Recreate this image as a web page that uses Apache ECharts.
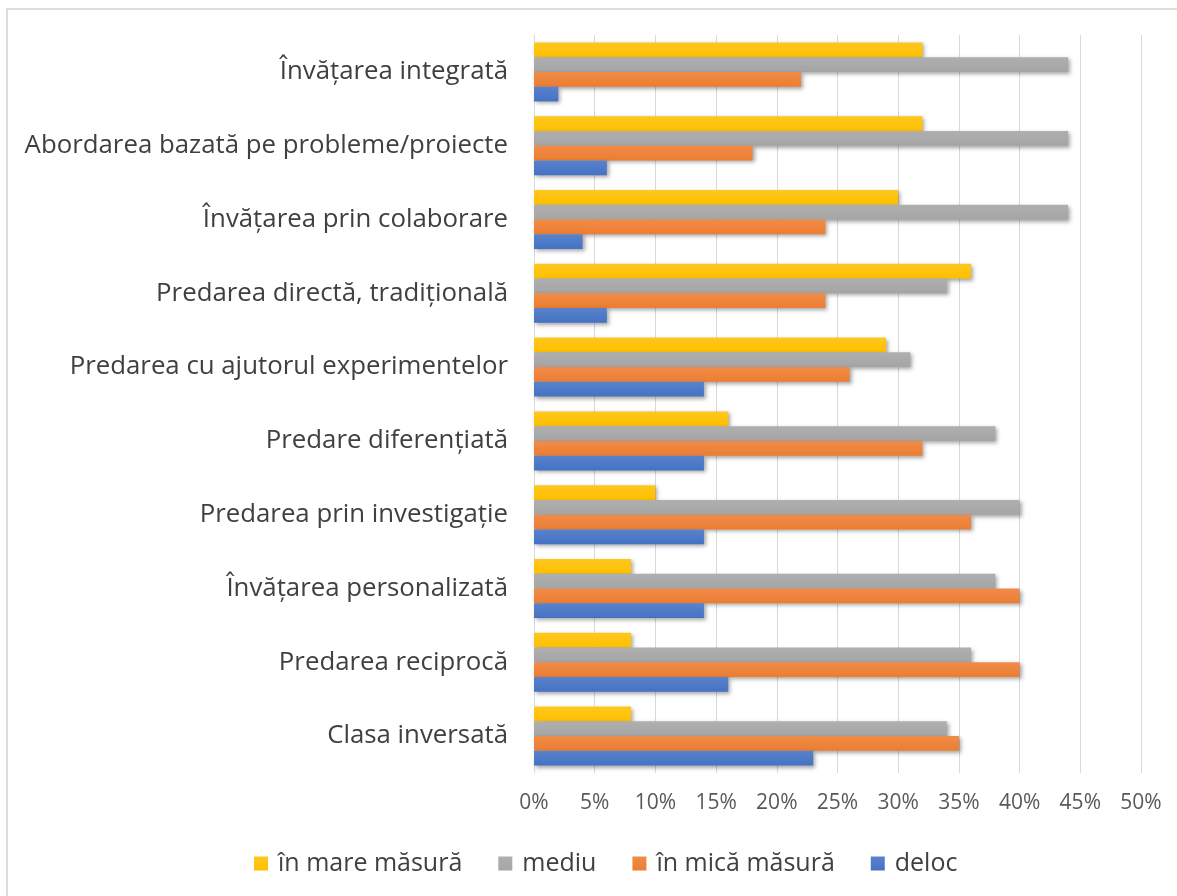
<!DOCTYPE html>
<html>
<head>
<meta charset="utf-8">
<script src="https://cdn.jsdelivr.net/npm/echarts@6/dist/echarts.min.js"></script>
<style>
  html, body { margin: 0; padding: 0; background: #fff; }
  #frame { position: absolute; left: 6px; top: 8px; width: 1171px; height: 888px; border-top: 2px solid #dcdcdc; border-left: 2px solid #dcdcdc; box-sizing: border-box; }
  #chart { position: absolute; left: 0; top: 0; width: 1177px; height: 896px; }
</style>
</head>
<body>
<div id="frame"></div>
<div id="chart"></div>
<script>
// Teaching approaches, listed top to bottom
const categories = [
  'Învățarea integrată',
  'Abordarea bazată pe probleme/proiecte',
  'Învățarea prin colaborare',
  'Predarea directă, tradițională',
  'Predarea cu ajutorul experimentelor',
  'Predare diferențiată',
  'Predarea prin investigație',
  'Învățarea personalizată',
  'Predarea reciprocă',
  'Clasa inversată'
];

// Share of answers (%) per approach
const inMareMasura = [32, 32, 30, 36, 29, 16, 10, 8, 8, 8];
const mediu        = [44, 44, 44, 34, 31, 38, 40, 38, 36, 34];
const inMicaMasura = [22, 18, 24, 24, 26, 32, 36, 40, 40, 35];
const deloc        = [2, 6, 4, 6, 14, 14, 14, 14, 16, 23];

const seriesNames = ['în mare măsură', 'mediu', 'în mică măsură', 'deloc'];
const seriesColors = ['#FFC000', '#A5A5A5', '#ED7D31', '#4472C4'];
const seriesData = [inMareMasura, mediu, inMicaMasura, deloc];

const axisTicks = [0, 5, 10, 15, 20, 25, 30, 35, 40, 45, 50];

const FONT = '"Open Sans", "DejaVu Sans", sans-serif';

const chart = echarts.init(document.getElementById('chart'), null, { renderer: 'canvas' });

chart.setOption({
  animation: false,
  backgroundColor: 'transparent',
  grid: { left: 534, right: 36, top: 35, bottom: 123, containLabel: false },
  legend: {
    data: seriesNames,
    left: 249,
    top: 846,
    itemWidth: 14,
    itemHeight: 14,
    itemGap: 36,
    icon: 'rect',
    textStyle: { fontFamily: FONT, fontSize: 25, color: '#404040', padding: [0, 0, 0, 5] }
  },
  xAxis: {
    type: 'value',
    min: axisTicks[0],
    max: axisTicks[axisTicks.length - 1],
    interval: 5,
    axisLine: { show: false },
    axisTick: { show: false },
    splitLine: { show: true, lineStyle: { color: '#d9d9d9', width: 1 } },
    axisLabel: {
      formatter: v => v + '%',
      margin: 20,
      fontFamily: FONT,
      fontSize: 21,
      color: '#595959'
    }
  },
  yAxis: {
    type: 'category',
    data: categories,
    inverse: true,
    axisLine: { show: true, lineStyle: { color: '#d9d9d9' } },
    axisTick: { show: false },
    axisLabel: {
      margin: 26,
      fontFamily: FONT,
      fontSize: 25.8,
      color: '#404040'
    }
  },
  series: seriesNames.map((name, i) => ({
    name: name,
    type: 'bar',
    data: seriesData[i],
    barGap: '0%',
    barCategoryGap: '20%',
    itemStyle: {
      color: new echarts.graphic.LinearGradient(0, 0, 0, 1, [
        { offset: 0, color: echarts.color.lift(seriesColors[i], 0.12) },
        { offset: 1, color: seriesColors[i] }
      ]),
      shadowColor: 'rgba(0,0,0,0.35)',
      shadowBlur: 4,
      shadowOffsetX: 2,
      shadowOffsetY: 2
    }
  }))
});
</script>
</body>
</html>
